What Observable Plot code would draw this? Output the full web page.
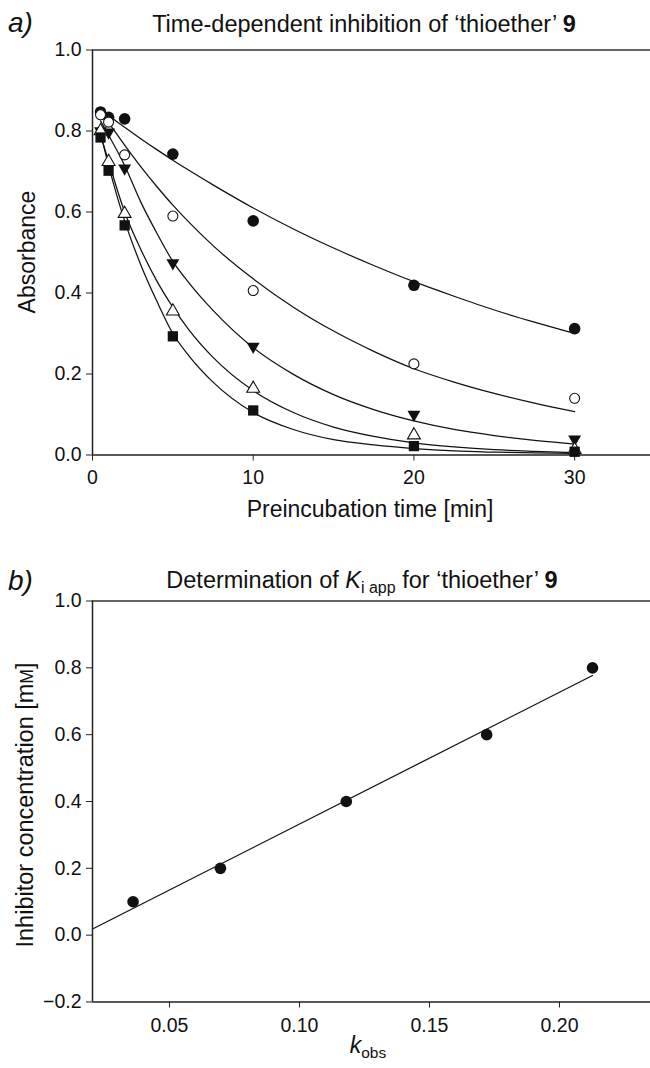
<!DOCTYPE html>
<html>
<head>
<meta charset="utf-8">
<script src="https://cdn.jsdelivr.net/npm/d3@7"></script>
<script src="https://cdn.jsdelivr.net/npm/@observablehq/plot@0.6"></script>
<style>
  html, body { margin: 0; padding: 0; background: #fff; }
  #wrap { position: relative; width: 650px; height: 1068px; overflow: hidden; background: #fff; }
  #wrap > svg { position: absolute; left: 0; }
  #overlay { top: 0; pointer-events: none; }
</style>
</head>
<body>
<div id="wrap"></div>
<script>
// ---------- Panel a data ----------
const times = [0.5, 1, 2, 5, 10, 20, 30];
const filledCircle = [0.847, 0.834, 0.830, 0.743, 0.578, 0.419, 0.312];
const openCircle   = [0.840, 0.822, 0.741, 0.590, 0.406, 0.225, 0.140];
const filledTriDown= [0.800, 0.797, 0.708, 0.474, 0.268, 0.100, 0.039];
const openTri      = [0.800, 0.724, 0.596, 0.355, 0.164, 0.049, 0.013];
const filledSquare = [0.784, 0.702, 0.567, 0.293, 0.110, 0.022, 0.008];

// fitted curves
const fitTimes = [0.5, 1, 2, 3, 4, 5, 6, 7.5, 10, 12.5, 15, 17.5, 20, 22.5, 25, 27.5, 30];
const filledCircleFit = [0.852, 0.838, 0.809, 0.781, 0.754, 0.728, 0.703, 0.667, 0.610, 0.558, 0.511, 0.468, 0.428, 0.392, 0.358, 0.328, 0.300];
const openCircleFit   = [0.845, 0.820, 0.765, 0.712, 0.663, 0.617, 0.575, 0.517, 0.435, 0.365, 0.306, 0.256, 0.213, 0.180, 0.152, 0.128, 0.107];
const triDownFit      = [0.825, 0.790, 0.715, 0.625, 0.548, 0.478, 0.425, 0.357, 0.265, 0.199, 0.149, 0.112, 0.084, 0.063, 0.048, 0.036, 0.027];
const openTriFit      = [0.790, 0.725, 0.600, 0.508, 0.430, 0.365, 0.309, 0.241, 0.159, 0.105, 0.069, 0.046, 0.030, 0.020, 0.013, 0.009, 0.006];
const squareFit       = [0.795, 0.715, 0.578, 0.470, 0.380, 0.300, 0.245, 0.180, 0.105, 0.063, 0.038, 0.025, 0.016, 0.010, 0.007, 0.005, 0.004];

const xTicksA = [0, 10, 20, 30];
const yTicksA = [0, 0.2, 0.4, 0.6, 0.8, 1.0];

// ---------- Panel b data ----------
const kobs = [0.036, 0.0696, 0.118, 0.172, 0.2127];
const conc = [0.1, 0.2, 0.4, 0.6, 0.8];
const fitK = [0.0204, 0.2127];
const fitC = [0.0186, 0.777];
const xTicksB = [0.05, 0.10, 0.15, 0.20];
const yTicksB = [-0.2, 0, 0.2, 0.4, 0.6, 0.8, 1.0];

// ---------- build tables ----------
const pts = (ys) => times.map((t, i) => ({t, y: ys[i]}));
const fitRows = [
  ["fc", filledCircleFit], ["oc", openCircleFit], ["td", triDownFit], ["ot", openTriFit], ["sq", squareFit]
].flatMap(([s, ys]) => fitTimes.map((t, i) => ({series: s, t, y: ys[i]})));

const FONT = "'Liberation Sans', Arial, Helvetica, sans-serif";
const INK = "#111";
const fmt1 = d3.format(".1f");
const fmt2 = d3.format(".2f");

const wrap = document.getElementById("wrap");

const chartA = Plot.plot({
  width: 650, height: 540,
  marginTop: 49.5, marginBottom: 85.5, marginLeft: 92, marginRight: 0,
  style: {fontFamily: FONT, fontSize: "19.5px", color: INK, background: "transparent", overflow: "visible"},
  x: {domain: [0, 34.72]},
  y: {domain: [0, 1]},
  marks: [
    Plot.ruleY([1], {stroke: "#333", strokeWidth: 1.3}),
    Plot.line(fitRows, {x: "t", y: "y", z: "series", stroke: INK, strokeWidth: 1.25, curve: "monotone-x"}),
    Plot.ruleX([0], {stroke: "#222", strokeWidth: 1.5}),
    Plot.ruleY([0], {stroke: "#222", strokeWidth: 1.5}),
    Plot.axisY(yTicksA, {tickFormat: fmt1, tickSize: 6, tickPadding: 5, label: null, stroke: "#222"}),
    Plot.axisX(xTicksA, {tickSize: 6, tickPadding: 9, label: null, stroke: "#222"}),
    Plot.dot(pts(filledCircle), {x: "t", y: "y", symbol: "circle", r: 5.8, fill: INK}),
    Plot.dot(pts(openCircle), {x: "t", y: "y", symbol: "circle", r: 5, fill: "white", stroke: INK, strokeWidth: 1.1}),
    Plot.dot(pts(filledTriDown), {x: "t", y: "y", symbol: "triangle", r: 4.8, rotate: 180, fill: INK}),
    Plot.dot(pts(openTri), {x: "t", y: "y", symbol: "triangle", r: 4.8, fill: "white", stroke: INK, strokeWidth: 1.1}),
    Plot.dot(pts(filledSquare), {x: "t", y: "y", symbol: "square", r: 5.8, fill: INK})
  ]
});
chartA.style.top = "0px";
wrap.appendChild(chartA);

const ptsB = kobs.map((k, i) => ({k, c: conc[i]}));
const fitB = fitK.map((k, i) => ({k, c: fitC[i]}));

const chartB = Plot.plot({
  width: 650, height: 528,
  marginTop: 60.5, marginBottom: 66.5, marginLeft: 92, marginRight: 0,
  style: {fontFamily: FONT, fontSize: "19.5px", color: INK, background: "transparent", overflow: "visible"},
  x: {domain: [0.0204, 0.2350]},
  y: {domain: [-0.2, 1.0]},
  marks: [
    Plot.ruleY([1], {stroke: "#333", strokeWidth: 1.3}),
    Plot.line(fitB, {x: "k", y: "c", stroke: INK, strokeWidth: 1.25}),
    Plot.ruleX([0.0204], {stroke: "#222", strokeWidth: 1.5}),
    Plot.ruleY([-0.2], {stroke: "#222", strokeWidth: 1.5}),
    Plot.axisY(yTicksB, {tickFormat: fmt1, tickSize: 6, tickPadding: 5, label: null, stroke: "#222"}),
    Plot.axisX(xTicksB, {tickFormat: fmt2, tickSize: 6, tickPadding: 10, label: null, stroke: "#222"}),
    Plot.dot(ptsB, {x: "k", y: "c", symbol: "circle", r: 5.8, fill: INK})
  ]
});
chartB.style.top = "540px";
wrap.appendChild(chartB);

// ---------- text overlay ----------
const svg = d3.select(wrap).append("svg")
  .attr("id", "overlay").attr("width", 650).attr("height", 1068)
  .style("font-family", FONT).style("fill", INK);

function addText(x, y, size, anchor, opts = {}) {
  const t = svg.append("text").attr("x", x).attr("y", y)
    .attr("font-size", size).attr("text-anchor", anchor).attr("fill", INK);
  if (opts.rotate) t.attr("transform", `rotate(-90 ${x} ${y})`);
  if (opts.italic) t.attr("font-style", "italic");
  return t;
}

// panel letters
addText(8, 32, 28, "start", {italic: true}).text("a)");
addText(8, 590, 28, "start", {italic: true}).text("b)");

// title a
{
  const t = addText(364, 32, 23.5, "middle");
  t.append("tspan").text("Time-dependent inhibition of \u2018thioether\u2019 ");
  t.append("tspan").attr("font-weight", "bold").text("9");
}
// title b
{
  const t = addText(362, 588, 23.5, "middle");
  t.append("tspan").text("Determination of ");
  t.append("tspan").attr("font-style", "italic").text("K");
  t.append("tspan").attr("font-size", 16).attr("dy", 5).text("i app");
  t.append("tspan").attr("dy", -5).text(" for \u2018thioether\u2019 ");
  t.append("tspan").attr("font-weight", "bold").text("9");
}

// axis titles
addText(370, 517, 23, "middle").text("Preincubation time [min]");
addText(35, 252, 23, "middle", {rotate: true}).text("Absorbance");
{
  const t = addText(33, 805, 23.5, "middle", {rotate: true});
  t.append("tspan").text("Inhibitor concentration [m");
  t.append("tspan").attr("font-size", 17.5).text("M");
  t.append("tspan").text("]");
}
{
  const t = addText(368, 1053, 23, "middle");
  t.append("tspan").attr("font-style", "italic").text("k");
  t.append("tspan").attr("font-size", 15.5).attr("dy", 5).text("obs");
}
</script>
</body>
</html>
